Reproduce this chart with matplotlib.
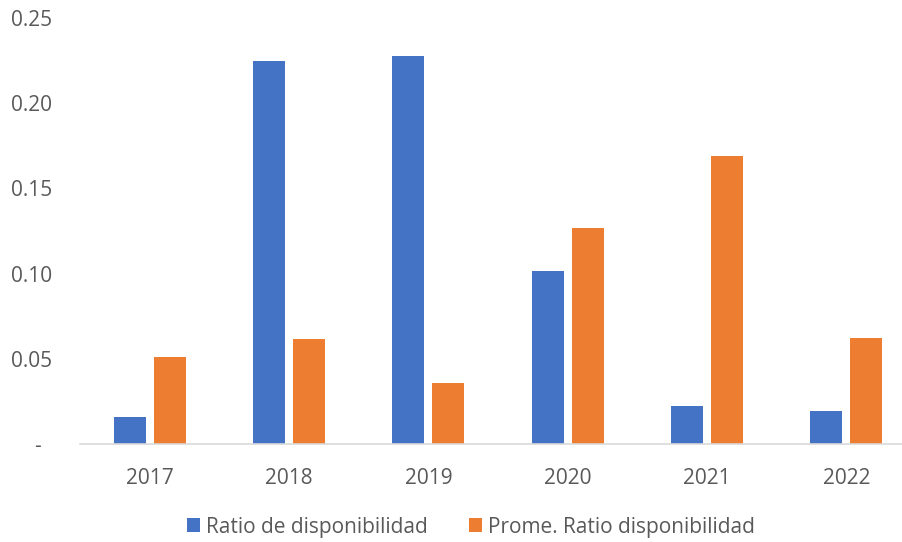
import numpy as np
import matplotlib.pyplot as plt

years = ["2017", "2018", "2019", "2020", "2021", "2022"]
ratio_disp = [0.0158, 0.2245, 0.2275, 0.1013, 0.0222, 0.0193]
prome_ratio = [0.0510, 0.0615, 0.0357, 0.1270, 0.1690, 0.0622]
y_ticks = [0, 0.05, 0.10, 0.15, 0.20, 0.25]
y_labels = ["-  ", "0.05", "0.10", "0.15", "0.20", "0.25"]

plt.rcParams['font.family'] = ['Open Sans', 'DejaVu Sans']
text_color = '#595959'
fs = 15

fig = plt.figure(figsize=(9.02, 5.42), dpi=100)
ax = fig.add_axes([80 / 902, 1 - 444 / 542, 836 / 902, 426 / 542])

x = np.arange(len(years))
w = 0.23
off = 0.144
ax.bar(x - off, ratio_disp, w, color='#4472C4', label='Ratio de disponibilidad')
ax.bar(x + off, prome_ratio, w, color='#ED7D31', label='Prome. Ratio disponibilidad')

ax.set_xlim(-0.5, len(years) - 0.5)
ax.set_ylim(0, 0.25)
ax.set_xticks(x)
ax.set_xticklabels(years)
ax.set_yticks(y_ticks)
ax.set_yticklabels(y_labels)
ax.tick_params(axis='both', length=0, labelsize=fs, colors=text_color)
ax.tick_params(axis='y', pad=20)
ax.tick_params(axis='x', pad=17)

for s in ['top', 'right', 'left']:
    ax.spines[s].set_visible(False)
ax.spines['bottom'].set_color('#D9D9D9')
ax.spines['bottom'].set_linewidth(1.2)

leg = fig.legend(loc='center', bbox_to_anchor=(471 / 902, 1 - 527 / 542), ncol=2,
                 frameon=False, fontsize=fs, handlelength=0.62, handleheight=0.62,
                 handletextpad=0.3, columnspacing=2.0)
for t in leg.get_texts():
    t.set_color(text_color)

fig.savefig('out.png', dpi=100)
